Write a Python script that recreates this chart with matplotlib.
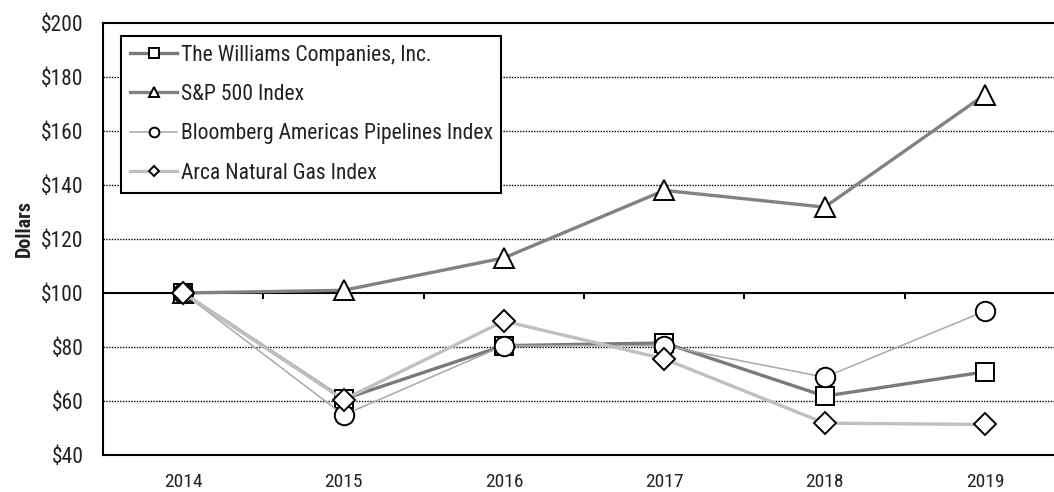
import matplotlib
matplotlib.use("Agg")
import matplotlib.pyplot as plt
from matplotlib.ticker import FuncFormatter

plt.rcParams['font.family'] = ['Roboto Condensed', 'Liberation Sans', 'DejaVu Sans']

# data
years = ["2014", "2015", "2016", "2017", "2018", "2019"]
williams = [100, 60.7, 80.5, 81.5, 61.8, 70.8]
sp500 = [100, 101.0, 113.0, 138.0, 131.8, 173.5]
bloomberg = [100, 54.8, 80.5, 80.5, 68.8, 93.3]
arca = [100, 60.5, 89.6, 75.6, 51.8, 51.3]

fig = plt.figure(figsize=(10.54, 4.92), dpi=100)
ax = fig.add_axes([103 / 1054, 37 / 492, 1 - 103 / 1054, 432 / 492])

x = list(range(len(years)))
mk = dict(markerfacecolor="white", markeredgecolor="black", markeredgewidth=1.4)

ax.plot(x, williams, color="#7a7a7a", lw=2.4, marker="s", ms=13.5, label="The Williams Companies, Inc.", **mk)
ax.plot(x, sp500, color="#828282", lw=2.4, marker="^", ms=14.5, label="S&P 500 Index", **mk)
ax.plot(x, bloomberg, color="#a8a8a8", lw=1.1, marker="o", ms=14, label="Bloomberg Americas Pipelines Index", **mk)
ax.plot(x, arca, color="#c0c0c0", lw=2.4, marker="D", ms=11, label="Arca Natural Gas Index", **mk)

ax.set_xlim(-0.5, 5.43)
ax.set_ylim(40, 200)
ax.set_yticks(range(40, 201, 20))
ax.yaxis.set_major_formatter(FuncFormatter(lambda v, p: f"${v:.0f}"))
ax.set_xticks(x)
ax.set_xticklabels(years)
ax.tick_params(axis="x", length=0, pad=13, labelsize=14, labelcolor="#222222")
ax.tick_params(axis="y", length=0, pad=14, labelsize=15.5, labelcolor="#222222")

# dotted grid, solid line at $100 with category ticks
for g in [60, 80, 120, 140, 160, 180]:
    ax.axhline(g, color="black", lw=1, ls=(0, (1, 1)), zorder=0)
ax.axhline(100, color="black", lw=1.5, zorder=0)
ax.vlines([i + 0.5 for i in range(len(years) - 1)], 97.8, 100, color="black", lw=1.5, zorder=0)

for s in ["left", "top", "bottom"]:
    ax.spines[s].set_linewidth(1.5)
ax.spines["right"].set_visible(False)

ax.set_ylabel("Dollars", fontsize=14.5, fontweight="bold", color="#222222")
ax.yaxis.set_label_coords(-0.073, 0.525)

leg = ax.legend(loc="upper left", bbox_to_anchor=(121 / 1054, 1 - 36 / 492), bbox_transform=fig.transFigure,
                borderaxespad=0, fontsize=15.6, markerscale=0.5, handlelength=2.2, handletextpad=0.15,
                labelspacing=0.85, borderpad=0.4, fancybox=False, framealpha=1, edgecolor="black")
leg.get_frame().set_linewidth(1.5)
for t in leg.get_texts():
    t.set_color("#222222")

fig.savefig("out.png", dpi=100)
